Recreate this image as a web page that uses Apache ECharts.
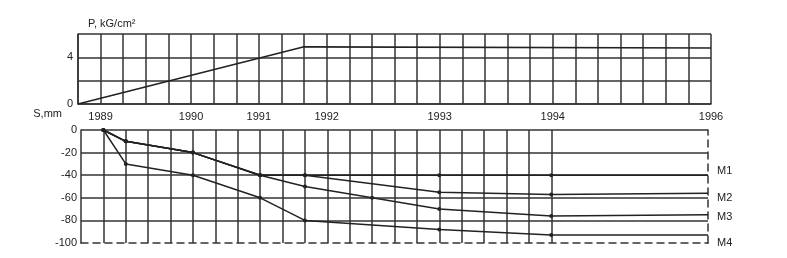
<!DOCTYPE html>
<html><head><meta charset="utf-8">
<script src="https://cdn.jsdelivr.net/npm/echarts@6/dist/echarts.min.js"></script>
<style>html,body{margin:0;padding:0;background:#fff}#c{width:787px;height:258px}</style>
</head><body><div id="c"></div>
<script>
// time grid columns (irregular time scale of the original drawing)
const columns = ['0','1','2','3','4','5','6','7','8','9','10','11','12','13','14','15','16','17','18','19','20','21','22','23','24','25','26','27','28'];
const yearCols = [1, 5, 8, 11, 16, 21, 28];
const yearNames = ['1989', '1990', '1991', '1992', '1993', '1994', '1996'];

// Load P, kG/cm2
const pCols = [0, 10, 28];
const pValues = [0, 4.9, 4.8];

// Settlements S, mm
const m1Cols = [1, 2, 5, 8, 10, 16, 21, 28];
const m1Values = [0, -10, -20, -40, -40, -40, -40, -40];
const m2Cols = [1, 2, 5, 8, 10, 16, 21, 28];
const m2Values = [0, -10, -20, -40, -40, -55, -57, -56];
const m3Cols = [1, 2, 5, 8, 10, 13, 16, 21, 28];
const m3Values = [0, -10, -20, -40, -50, -60, -70, -76, -75];
const m4Cols = [1, 2, 5, 8, 10, 16, 21, 28];
const m4Values = [0, -30, -40, -60, -80, -88, -93, -93];

const pTicksShown = [0, 4];

const INK = '#222';
const GRID = '#333';
const FONT = 'Liberation Sans, Arial, sans-serif';

function pairs(xs, ys) { return xs.map((x, i) => [x, ys[i]]); }

function settleSeries(name, xs, ys, offset) {
  const d = pairs(xs, ys);
  return {
    type: 'line', name: name, xAxisIndex: 1, yAxisIndex: 1,
    data: d,
    symbol: 'circle',
    symbolSize: (v, p) => (p.dataIndex === d.length - 1 ? 0 : 4),
    itemStyle: { color: INK },
    lineStyle: { color: INK, width: 1.5 },
    animation: false,
    endLabel: { show: true, formatter: name, color: INK, fontFamily: FONT, fontSize: 11, distance: 9, offset: offset }
  };
}

const chart = echarts.init(document.getElementById('c'), null, { renderer: 'canvas' });
chart.setOption({
  animation: false,
  backgroundColor: '#fff',
  grid: [
    { left: 78, right: 76, top: 34, height: 70 },
    { left: 81, right: 79, top: 130, height: 113 }
  ],
  xAxis: [
    {
      gridIndex: 0, type: 'category', data: columns, boundaryGap: false,
      axisLine: { show: true, onZero: false, lineStyle: { color: GRID, width: 1.5 } },
      axisTick: { show: false },
      splitLine: { show: true, interval: 0, lineStyle: { color: GRID, width: 1.5 } },
      axisLabel: {
        interval: 0, margin: 7, color: INK, fontFamily: FONT, fontSize: 11,
        formatter: (v, i) => { const k = yearCols.indexOf(i); return k >= 0 ? yearNames[k] : ''; }
      }
    },
    {
      gridIndex: 1, type: 'category', data: columns, boundaryGap: false, position: 'bottom',
      axisLine: { show: true, onZero: false, lineStyle: { color: GRID, width: 1.5, type: [7, 5] } },
      axisTick: { show: false },
      axisLabel: { show: false },
      splitLine: { show: true, interval: (i) => i >= 1 && i <= 21, lineStyle: { color: GRID, width: 1.5 } }
    }
  ],
  yAxis: [
    {
      gridIndex: 0, type: 'value', min: 0, max: 6, interval: 2,
      name: 'P, kG/cm²', nameLocation: 'end', nameGap: 10,
      nameTextStyle: { color: INK, fontFamily: FONT, fontSize: 11, align: 'left', verticalAlign: 'middle', padding: [0, 0, 0, 10] },
      axisLine: { show: true, lineStyle: { color: GRID, width: 1.5 } },
      axisTick: { show: false },
      splitLine: { show: true, lineStyle: { color: GRID, width: 1.5 } },
      axisLabel: { margin: 5, color: INK, fontFamily: FONT, fontSize: 11,
        formatter: v => (pTicksShown.indexOf(v) >= 0 ? String(v) : '') }
    },
    {
      gridIndex: 1, type: 'value', min: -100, max: 0, interval: 20,
      name: 'S,mm', nameLocation: 'end', nameGap: 16,
      nameTextStyle: { color: INK, fontFamily: FONT, fontSize: 11, align: 'right', verticalAlign: 'middle', padding: [0, 19, 0, 0] },
      axisLine: { show: true, lineStyle: { color: GRID, width: 1.5 } },
      axisTick: { show: false },
      splitLine: { show: true, showMinLine: false, showMaxLine: true, lineStyle: { color: GRID, width: 1.5 } },
      axisLabel: { margin: 4, color: INK, fontFamily: FONT, fontSize: 11 }
    },
    {
      gridIndex: 1, type: 'value', min: -100, max: 0, interval: 20, position: 'right',
      axisLine: { show: true, lineStyle: { color: GRID, width: 1.5, type: [7, 5] } },
      axisTick: { show: false }, axisLabel: { show: false }, splitLine: { show: false }
    }
  ],
  series: [
    {
      type: 'line', name: 'P', xAxisIndex: 0, yAxisIndex: 0,
      data: pairs(pCols, pValues), showSymbol: false,
      lineStyle: { color: INK, width: 1.6 }
    },
    settleSeries('M1', m1Cols, m1Values, [0, -4]),
    settleSeries('M2', m2Cols, m2Values, [0, 5]),
    settleSeries('M3', m3Cols, m3Values, [0, 2]),
    settleSeries('M4', m4Cols, m4Values, [0, 8])
  ]
});
</script>
</body></html>
